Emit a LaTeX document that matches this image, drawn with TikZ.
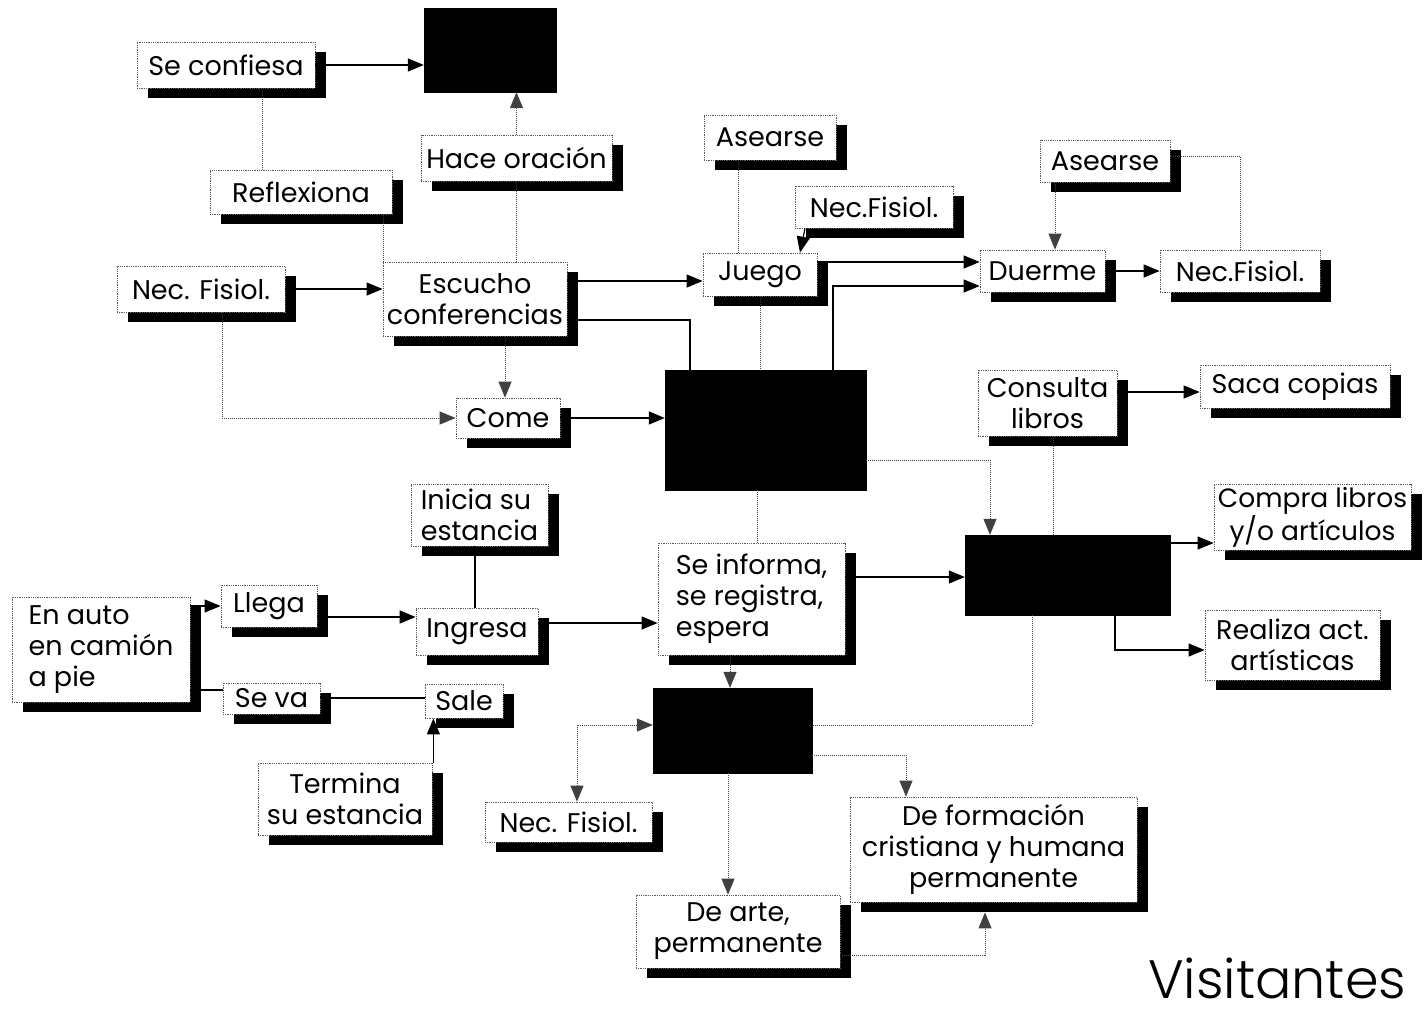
\documentclass[tikz,border=0pt]{standalone}
\usepackage{fontspec}
\setmainfont{Poppins}
\IfFontExistsTF{Poppins Light}{\newfontfamily\visfont{Poppins Light}}{\newfontfamily\visfont{Poppins}}
\usetikzlibrary{arrows.meta,shadows}
\begin{document}
\begin{tikzpicture}[x=1pt,y=-1pt,
  box/.style={draw=black!65, densely dotted, line width=0.8pt, fill=white, inner sep=0pt,
    font=\fontsize{27}{31}\selectfont, align=center,
    drop shadow={shadow xshift=11pt, shadow yshift=-10pt, fill=black, opacity=1}},
  blk/.style={fill=black, draw=black, inner sep=0pt},
  line/.style={draw=black, line width=1.2pt},
  lite/.style={draw=black!75, line width=1pt, densely dotted},
  tip/.tip={Triangle[length=16pt,width=13pt]},
  arr/.style={line, -tip},
  arrl/.style={lite, -tip},
  arrb/.style={lite, tip-tip}]
\fill[white] (0,0) rectangle (1426,1015);
\useasboundingbox (0,0) rectangle (1426,1015);
% black boxes
\node[blk, minimum width=132pt, minimum height=84pt] (blktop) at (490,50) {};
\node[blk, minimum width=201pt, minimum height=120pt] (blkc) at (765.5,430) {};
\node[blk, minimum width=205pt, minimum height=80pt] (blkr) at (1067.5,575) {};
\node[blk, minimum width=159pt, minimum height=85pt] (blkl) at (732.5,730.5) {};
% labelled boxes
\node[box, minimum width=178pt, minimum height=46pt] (conf) at (226,65) {Se confiesa};
\node[box, minimum width=191pt, minimum height=46pt] (hace) at (516.5,158) {Hace oración};
\node[box, minimum width=182pt, minimum height=44pt] (refl) at (301,192) {Reflexiona};
\node[box, minimum width=132pt, minimum height=45pt] (asea1) at (770,137.5) {Asearse};
\node[box, minimum width=158pt, minimum height=42pt] (necf2) at (874,207) {Nec.Fisiol.};
\node[box, minimum width=130pt, minimum height=42pt] (asea2) at (1105,161) {Asearse};
\node[box, minimum width=125pt, minimum height=42pt] (duer) at (1042.5,271) {Duerme};
\node[box, minimum width=160pt, minimum height=42pt] (necf3) at (1240,271) {Nec.Fisiol.};
\node[box, minimum width=168pt, minimum height=46pt] (necf1) at (201,289) {Nec. Fisiol.};
\node[box, minimum width=184pt, minimum height=74pt] (escu) at (475,299) {Escucho\\conferencias};
\node[box, minimum width=114pt, minimum height=43pt] (jueg) at (760,274.5) {Juego};
\node[box, minimum width=104pt, minimum height=40pt] (come) at (508,418) {Come};
\node[box, minimum width=139pt, minimum height=66pt] (cons) at (1047.5,403) {Consulta\\libros};
\node[box, minimum width=190pt, minimum height=43pt] (saca) at (1295,386.5) {Saca copias};
\node[box, minimum width=197pt, minimum height=66pt, font=\fontsize{26.5}{31}\selectfont] (comp) at (1312.5,517) {Compra libros\\y/o artículos};
\node[box, minimum width=175pt, minimum height=70pt] (real) at (1292.5,645) {Realiza act.\\artísticas};
\node[box, minimum width=137pt, minimum height=62pt, align=left] (inic) at (479.5,515) {Inicia su\\estancia};
\node[box, minimum width=187pt, minimum height=112pt, align=left] (info) at (751.5,599) {Se informa,\\se registra,\\espera};
\node[box, minimum width=178pt, minimum height=105pt, align=left] (auto) at (101,649.5) {En auto\\en camión\\a pie};
\node[box, minimum width=96pt, minimum height=42pt] (lleg) at (269,606) {Llega};
\node[box, minimum width=122pt, minimum height=47pt] (ingr) at (477,631.5) {Ingresa};
\node[box, minimum width=97pt, minimum height=31pt] (seva) at (271.5,698.5) {Se va};
\node[box, minimum width=78pt, minimum height=34pt] (sale) at (464,701) {Sale};
\node[box, minimum width=174pt, minimum height=72pt] (term) at (345,799) {Termina\\su estancia};
\node[box, minimum width=167pt, minimum height=40pt] (necf4) at (568.5,822) {Nec. Fisiol.};
\node[box, minimum width=287pt, minimum height=105pt] (form) at (993.5,849.5) {De formación\\cristiana y humana\\permanente};
\node[box, minimum width=204pt, minimum height=73pt] (arte) at (738,931.5) {De arte,\\permanente};
\node[anchor=base west, inner sep=0pt, font=\visfont\fontsize{54}{62}\selectfont] (vis) at (1148,998) {Visitantes};
% connectors
\draw[arr] (conf.east) -- (conf.east -| blktop.west);
\draw[arrl] (hace.north) -- (hace.north |- blktop.south);
\draw[lite] ([xshift=-39pt]refl.north) -- ([xshift=-39pt]refl.north |- conf.south);
\draw[lite] (escu.north -| hace.south) -- (hace.south);
\draw[lite] ([xshift=1pt]escu.north west) -- ([xshift=1pt]escu.north west |- refl.south);
\draw[arr] (necf1.east) -- (necf1.east -| escu.west);
\draw[arrl] ([xshift=21pt]necf1.south) |- (come.west);
\draw[arrl] ([xshift=30pt]escu.south) -- ([xshift=30pt]escu.south |- come.north);
\draw[arr] ([yshift=18pt]escu.east) -- ([yshift=18pt]escu.east -| jueg.west);
\draw[line] ([yshift=-21pt]escu.east) -| ([xshift=-75.5pt]blkc.north);
\draw[arr] (come.east) -- (come.east -| blkc.west);
\draw[lite] ([xshift=-22pt]jueg.north) -- ([xshift=-22pt]jueg.north |- asea1.south);
\draw[arr] ([xshift=-69pt]necf2.south) -- ([xshift=40pt]jueg.north);
\draw[arr] ([yshift=12.5pt]jueg.east) -- ([yshift=12.5pt]jueg.east -| duer.west);
\draw[arr] ([xshift=67.5pt]blkc.north) |- ([yshift=-15pt]duer.west);
\draw[lite] (jueg.south) -- (jueg.south |- blkc.north);
\draw[arrl] ([xshift=-50pt]asea2.south) -- ([xshift=-50pt]asea2.south |- duer.north);
\draw[arr] (duer.east) -- (duer.east -| necf3.west);
\draw[lite] (necf3.north) |- ([yshift=5pt]asea2.east);
\draw[arrl] ([yshift=-30pt]blkc.east) -| ([xshift=-77.5pt]blkr.north);
\draw[lite] ([xshift=-8.5pt]blkc.south) -- ([xshift=-8.5pt]blkc.south |- info.north);
\draw[arr] ([yshift=11pt]cons.east) -- ([yshift=11pt]cons.east -| saca.west);
\draw[lite] ([xshift=5.5pt]cons.south) -- ([xshift=5.5pt]cons.south |- blkr.north);
\draw[arr] ([yshift=32pt]blkr.east) -- ([yshift=32pt]blkr.east -| comp.west);
\draw[arr] ([xshift=47.5pt]blkr.south) |- ([yshift=-5pt]real.west);
\draw[arr] ([yshift=22pt]info.east) -- ([yshift=22pt]info.east -| blkr.west);
\draw[lite] ([xshift=-35.5pt]blkr.south) |- ([yshift=5.5pt]blkl.east);
\draw[arr] ([yshift=8.5pt]ingr.east) -- ([yshift=8.5pt]ingr.east -| info.west);
\draw[line] ([xshift=-2pt]ingr.north) -- ([xshift=-2pt]ingr.north |- inic.south);
\draw[arr] (auto.east |- lleg.west) -- (lleg.west);
\draw[arr] ([yshift=-11pt]lleg.east) -- ([yshift=-11pt]lleg.east -| ingr.west);
\draw[line] ([yshift=8.5pt]seva.west) -- ([yshift=8.5pt]seva.west -| auto.east);
\draw[line] ([yshift=3pt]sale.west) -- ([yshift=3pt]sale.west -| seva.east);
\draw[arr] ([xshift=1pt]term.north east) -- ([xshift=1pt]term.north east |- sale.south);
\draw[arrl] ([xshift=-21.5pt]info.south) -- ([xshift=-21.5pt]info.south |- blkl.north);
\draw[arrb] ([yshift=5.5pt]blkl.west) -| ([xshift=8.5pt]necf4.north);
\draw[arrl] ([xshift=-4.5pt]blkl.south) -- ([xshift=-4.5pt]blkl.south |- arte.north);
\draw[arrl] ([yshift=-24.5pt]blkl.east) -| ([xshift=-87.5pt]form.north);
\draw[arrl] ([yshift=-23.5pt]arte.east) -| ([xshift=-8.5pt,yshift=-10pt]form.south);
\end{tikzpicture}
\end{document}
